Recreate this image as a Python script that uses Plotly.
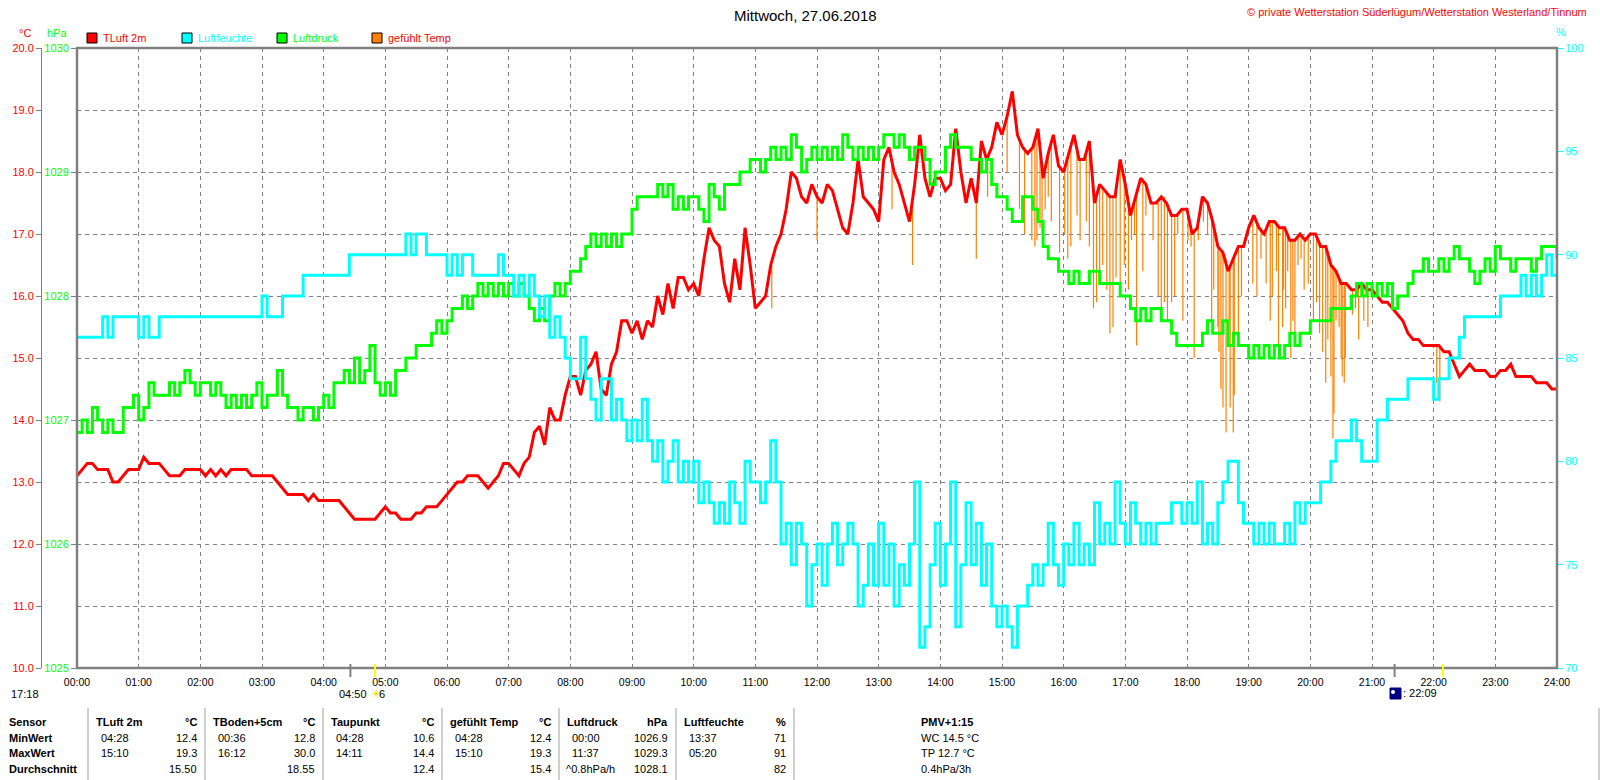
import plotly.graph_objects as go

# ---------------------------------------------------------------- data
TITLE = "Mittwoch, 27.06.2018"
COPYRIGHT = "© private Wetterstation Süderlügum/Wetterstation Westerland/Tinnum"

HOUR_LABELS = [f"{h:02d}:00" for h in range(25)]
TEMP_TICKS = [10, 11, 12, 13, 14, 15, 16, 17, 18, 19, 20]
PRESS_TICKS = [1025, 1026, 1027, 1028, 1029, 1030]
HUM_TICKS = [70, 75, 80, 85, 90, 95, 100]

# TLuft 2m, 5-minute readings (one row per hour) + 24:00
TEMP = [
    13.1, 13.2, 13.3, 13.3, 13.2, 13.2, 13.2, 13.0, 13.0, 13.1, 13.2, 13.2,
    13.2, 13.4, 13.3, 13.3, 13.3, 13.2, 13.1, 13.1, 13.1, 13.2, 13.2, 13.2,
    13.2, 13.1, 13.2, 13.1, 13.2, 13.1, 13.2, 13.2, 13.2, 13.2, 13.1, 13.1,
    13.1, 13.1, 13.1, 13.0, 12.9, 12.8, 12.8, 12.8, 12.8, 12.7, 12.8, 12.7,
    12.7, 12.7, 12.7, 12.7, 12.6, 12.5, 12.4, 12.4, 12.4, 12.4, 12.4, 12.5,
    12.6, 12.5, 12.5, 12.4, 12.4, 12.4, 12.5, 12.5, 12.6, 12.6, 12.6, 12.7,
    12.8, 12.9, 13.0, 13.0, 13.1, 13.1, 13.1, 13.0, 12.9, 13.0, 13.1, 13.3,
    13.3, 13.2, 13.1, 13.3, 13.4, 13.8, 13.9, 13.6, 14.2, 14.0, 14.0, 14.4,
    14.7, 14.7, 14.4, 14.8, 14.9, 15.1, 14.5, 14.4, 14.9, 15.1, 15.6, 15.6,
    15.4, 15.6, 15.3, 15.6, 15.5, 16.0, 15.7, 16.2, 15.8, 16.3, 16.3, 16.1,
    16.2, 16.0, 16.6, 17.1, 16.9, 16.8, 16.2, 15.9, 16.6, 16.1, 17.1, 16.5,
    15.8, 15.9, 16.0, 16.5, 16.8, 17.0, 17.4, 18.0, 17.9, 17.6, 17.5, 17.8,
    17.6, 17.5, 17.8, 17.7, 17.4, 17.1, 17.0, 17.5, 18.2, 17.6, 17.5, 17.4,
    17.2, 18.2, 18.4, 18.0, 17.8, 17.5, 17.2, 17.8, 18.6, 17.9, 17.6, 17.9,
    17.9, 17.7, 17.8, 18.7, 18.0, 17.5, 17.9, 17.5, 18.5, 18.2, 18.4, 18.8,
    18.6, 18.9, 19.3, 18.6, 18.4, 18.3, 18.4, 18.7, 17.9, 18.3, 18.6, 18.1,
    18.0, 18.3, 18.6, 18.2, 18.2, 18.5, 17.5, 17.8, 17.7, 17.6, 17.6, 18.2,
    17.8, 17.3, 17.6, 17.9, 17.8, 17.5, 17.5, 17.6, 17.5, 17.3, 17.3, 17.4,
    17.4, 17.0, 17.1, 17.6, 17.5, 17.2, 16.8, 16.7, 16.4, 16.6, 16.8, 16.8,
    17.1, 17.3, 17.1, 17.0, 17.2, 17.2, 17.1, 17.1, 16.9, 16.9, 17.0, 16.9,
    17.0, 17.0, 16.8, 16.8, 16.5, 16.4, 16.2, 16.2, 16.1, 16.1, 16.2, 16.1,
    16.1, 16.0, 15.9, 15.9, 15.8, 15.7, 15.6, 15.4, 15.3, 15.3, 15.2, 15.2,
    15.2, 15.2, 15.1, 15.1, 14.9, 14.7, 14.8, 14.9, 14.8, 14.8, 14.8, 14.7,
    14.7, 14.8, 14.8, 14.9, 14.7, 14.7, 14.7, 14.7, 14.6, 14.6, 14.6, 14.5,
    14.5,
]

# Luftdruck hPa, 5-minute readings
PRESSURE = [
    1026.9, 1027.0, 1026.9, 1027.1, 1027.0, 1026.9, 1027.0, 1026.9, 1026.9, 1027.1, 1027.1, 1027.2,
    1027.0, 1027.1, 1027.3, 1027.2, 1027.2, 1027.2, 1027.3, 1027.2, 1027.3, 1027.4, 1027.3, 1027.2,
    1027.3, 1027.3, 1027.2, 1027.3, 1027.2, 1027.1, 1027.2, 1027.1, 1027.2, 1027.1, 1027.2, 1027.3,
    1027.1, 1027.2, 1027.2, 1027.4, 1027.2, 1027.1, 1027.1, 1027.0, 1027.1, 1027.1, 1027.0, 1027.1,
    1027.2, 1027.1, 1027.3, 1027.3, 1027.4, 1027.3, 1027.5, 1027.3, 1027.4, 1027.6, 1027.3, 1027.2,
    1027.3, 1027.2, 1027.4, 1027.4, 1027.5, 1027.5, 1027.6, 1027.6, 1027.6, 1027.7, 1027.8, 1027.7,
    1027.8, 1027.9, 1027.9, 1028.0, 1027.9, 1028.0, 1028.1, 1028.0, 1028.1, 1028.0, 1028.1, 1028.0,
    1028.1, 1028.0, 1028.1, 1028.0, 1027.9, 1027.8, 1027.9, 1027.8, 1028.0, 1028.1, 1028.0, 1028.1,
    1028.2, 1028.2, 1028.3, 1028.4, 1028.5, 1028.4, 1028.5, 1028.4, 1028.5, 1028.4, 1028.5, 1028.5,
    1028.7, 1028.8, 1028.8, 1028.8, 1028.8, 1028.9, 1028.8, 1028.9, 1028.7, 1028.8, 1028.7, 1028.8,
    1028.8, 1028.7, 1028.6, 1028.9, 1028.8, 1028.7, 1028.9, 1028.9, 1028.9, 1029.0, 1029.0, 1029.1,
    1029.1, 1029.0, 1029.1, 1029.2, 1029.1, 1029.2, 1029.1, 1029.3, 1029.2, 1029.0, 1029.1, 1029.2,
    1029.1, 1029.2, 1029.1, 1029.2, 1029.1, 1029.3, 1029.2, 1029.1, 1029.2, 1029.1, 1029.2, 1029.1,
    1029.2, 1029.3, 1029.3, 1029.2, 1029.3, 1029.2, 1029.1, 1029.2, 1029.2, 1029.1, 1028.9, 1029.0,
    1029.0, 1029.2, 1029.3, 1029.2, 1029.2, 1029.2, 1029.1, 1029.1, 1029.0, 1029.1, 1028.9, 1028.8,
    1028.8, 1028.7, 1028.6, 1028.6, 1028.8, 1028.8, 1028.7, 1028.6, 1028.4, 1028.3, 1028.3, 1028.2,
    1028.2, 1028.1, 1028.2, 1028.1, 1028.1, 1028.2, 1028.2, 1028.1, 1028.1, 1028.1, 1028.1, 1028.0,
    1028.0, 1027.9, 1027.8, 1027.9, 1027.8, 1027.9, 1027.9, 1027.8, 1027.8, 1027.7, 1027.6, 1027.6,
    1027.6, 1027.6, 1027.6, 1027.7, 1027.8, 1027.7, 1027.7, 1027.8, 1027.6, 1027.7, 1027.6, 1027.6,
    1027.5, 1027.6, 1027.5, 1027.6, 1027.5, 1027.6, 1027.5, 1027.6, 1027.7, 1027.6, 1027.7, 1027.7,
    1027.8, 1027.8, 1027.8, 1027.8, 1027.9, 1027.9, 1027.9, 1027.9, 1028.0, 1028.1, 1028.0, 1028.1,
    1028.0, 1028.1, 1028.0, 1028.1, 1027.9, 1028.0, 1028.0, 1028.1, 1028.2, 1028.2, 1028.3, 1028.2,
    1028.2, 1028.3, 1028.2, 1028.3, 1028.4, 1028.3, 1028.3, 1028.2, 1028.1, 1028.2, 1028.3, 1028.2,
    1028.4, 1028.3, 1028.3, 1028.2, 1028.3, 1028.3, 1028.3, 1028.2, 1028.3, 1028.4, 1028.4, 1028.4,
    1028.3,
]

# Luftfeuchte %, 5-minute readings
HUMIDITY = [
    86, 86, 86, 86, 86, 87, 86, 87, 87, 87, 87, 87,
    86, 87, 86, 86, 87, 87, 87, 87, 87, 87, 87, 87,
    87, 87, 87, 87, 87, 87, 87, 87, 87, 87, 87, 87,
    88, 87, 87, 87, 88, 88, 88, 88, 89, 89, 89, 89,
    89, 89, 89, 89, 89, 90, 90, 90, 90, 90, 90, 90,
    90, 90, 90, 90, 91, 90, 91, 91, 90, 90, 90, 90,
    89, 90, 89, 90, 90, 89, 89, 89, 89, 89, 90, 89,
    89, 88, 89, 88, 89, 88, 87, 88, 86, 87, 86, 85,
    84, 84, 86, 84, 83, 82, 84, 84, 82, 83, 82, 81,
    82, 81, 83, 81, 80, 81, 79, 80, 81, 79, 80, 79,
    80, 78, 79, 78, 77, 78, 77, 79, 78, 77, 80, 79,
    79, 78, 79, 81, 79, 76, 77, 75, 77, 76, 73, 75,
    76, 74, 76, 77, 75, 76, 77, 76, 73, 74, 76, 74,
    77, 74, 76, 73, 75, 74, 76, 79, 71, 72, 75, 77,
    74, 76, 79, 72, 75, 78, 75, 77, 74, 76, 73, 72,
    73, 72, 71, 73, 73, 74, 75, 74, 75, 77, 75, 74,
    76, 75, 77, 75, 76, 75, 78, 76, 77, 76, 79, 77,
    76, 78, 77, 76, 77, 76, 77, 77, 77, 78, 78, 77,
    78, 77, 79, 76, 77, 76, 78, 79, 80, 80, 78, 77,
    77, 76, 77, 76, 77, 76, 76, 77, 76, 78, 77, 78,
    78, 78, 79, 79, 80, 81, 81, 81, 82, 81, 80, 80,
    80, 82, 82, 83, 83, 83, 83, 84, 84, 84, 84, 84,
    83, 84, 84, 85, 85, 86, 87, 87, 87, 87, 87, 87,
    87, 88, 88, 88, 88, 89, 88, 89, 88, 89, 90, 89,
    89,
]

# gefühlt Temp: equal to TLuft except short drops (time, value before drop, lowest value)
FEEL_DROPS = [
    ("11:16", 16.5, 15.8), ("12:00", 17.6, 16.9), ("13:13", 18.2, 17.4), ("13:33", 17.5, 16.5),
    ("14:35", 17.5, 16.6), ("14:46", 18.2, 17.6), ("15:05", 18.9, 18.0), ("15:17", 18.5, 17.4),
    ("15:22", 18.4, 17.0), ("15:29", 18.4, 16.9), ("15:32", 18.5, 16.8), ("15:34", 18.6, 16.9),
    ("15:37", 18.4, 17.1), ("15:39", 18.1, 17.0), ("15:42", 18.1, 17.4), ("15:45", 18.3, 17.6),
    ("15:48", 18.5, 17.2), ("15:56", 18.1, 16.7), ("16:01", 18.1, 17.0), ("16:04", 18.2, 16.6),
    ("16:07", 18.4, 16.8), ("16:13", 18.4, 17.3), ("16:16", 18.2, 16.9), ("16:22", 18.3, 17.2),
    ("16:25", 18.5, 16.8), ("16:29", 17.7, 15.8), ("16:32", 17.6, 15.9), ("16:35", 17.8, 16.3),
    ("16:38", 17.7, 16.5), ("16:42", 17.7, 16.1), ("16:45", 17.6, 15.4), ("16:48", 17.6, 15.5),
    ("16:51", 17.7, 16.3), ("16:55", 18.2, 16.0), ("16:59", 17.9, 16.5), ("17:03", 17.5, 16.1),
    ("17:06", 17.4, 16.9), ("17:09", 17.5, 17.0), ("17:11", 17.7, 15.2), ("17:17", 17.9, 16.4),
    ("17:20", 17.8, 17.3), ("17:27", 17.5, 16.9), ("17:32", 17.5, 16.0), ("17:35", 17.6, 15.6),
    ("17:38", 17.6, 15.9), ("17:41", 17.5, 15.6), ("17:45", 17.3, 15.9), ("17:48", 17.3, 16.0),
    ("17:51", 17.3, 17.0), ("17:56", 17.4, 15.6), ("18:01", 17.3, 16.9), ("18:04", 17.1, 16.8),
    ("18:07", 17.0, 15.0), ("18:11", 17.2, 16.9), ("18:16", 17.6, 17.2), ("18:20", 17.5, 17.0),
    ("18:24", 17.3, 15.6), ("18:26", 17.1, 16.1), ("18:30", 16.8, 15.5), ("18:31", 16.8, 15.1),
    ("18:33", 16.7, 14.5), ("18:35", 16.7, 14.2), ("18:38", 16.6, 13.8), ("18:41", 16.4, 15.6),
    ("18:42", 16.5, 14.2), ("18:45", 16.6, 13.8), ("18:46", 16.6, 14.4), ("18:50", 16.8, 15.4),
    ("18:53", 16.8, 16.0), ("19:04", 17.3, 16.2), ("19:08", 17.2, 16.0), ("19:12", 17.1, 16.6),
    ("19:17", 17.1, 16.2), ("19:21", 17.2, 15.6), ("19:23", 17.2, 16.0), ("19:27", 17.2, 16.4),
    ("19:29", 17.1, 15.2), ("19:33", 17.1, 15.5), ("19:34", 17.1, 16.1), ("19:36", 17.1, 15.8),
    ("19:38", 17.0, 16.4), ("19:41", 16.9, 15.0), ("19:43", 16.9, 15.6), ("19:45", 16.9, 15.4),
    ("19:48", 17.0, 16.5), ("19:51", 17.0, 16.6), ("19:54", 16.9, 16.1), ("19:58", 17.0, 16.2),
    ("20:03", 17.0, 15.6), ("20:06", 17.0, 15.9), ("20:09", 16.8, 15.4), ("20:12", 16.8, 15.1),
    ("20:15", 16.8, 14.6), ("20:17", 16.7, 15.3), ("20:20", 16.5, 14.7), ("20:22", 16.5, 13.7),
    ("20:23", 16.4, 14.1), ("20:25", 16.4, 15.6), ("20:28", 16.3, 15.5), ("20:30", 16.2, 15.0),
    ("20:31", 16.2, 14.7), ("20:33", 16.2, 14.6), ("20:34", 16.2, 15.0), ("20:41", 16.1, 15.7),
    ("20:44", 16.1, 15.8), ("20:47", 16.1, 15.3), ("20:52", 16.2, 15.6), ("20:56", 16.1, 15.5),
    ("22:03", 15.2, 14.6), ("22:06", 15.2, 14.3),
]

SUNRISE = "04:50"
SUNSET = "22:09"
DAWN_MARK = "04:26"
DUSK_MARK = "21:22"
DAY_LENGTH = "17:18"

LEGEND = [("TLuft 2m", "#FF0000", "#FF0000"), ("Luftfeuchte", "#00FFFF", "#00FFFF"),
          ("Luftdruck", "#00FF00", "#00FF00"), ("gefühlt Temp", "#FF8000", "#FF0000")]

TABLE_ROWS = ["Sensor", "MinWert", "MaxWert", "Durchschnitt"]
TABLE_COLS = [
    # header, unit, min time, min, max time, max, avg label, avg
    ("TLuft 2m", "°C", "04:28", "12.4", "15:10", "19.3", "", "15.50"),
    ("TBoden+5cm", "°C", "00:36", "12.8", "16:12", "30.0", "", "18.55"),
    ("Taupunkt", "°C", "04:28", "10.6", "14:11", "14.4", "", "12.4"),
    ("gefühlt Temp", "°C", "04:28", "12.4", "15:10", "19.3", "", "15.4"),
    ("Luftdruck", "hPa", "00:00", "1026.9", "11:37", "1029.3", "^0.8hPa/h", "1028.1"),
    ("Luftfeuchte", "%", "13:37", "71", "05:20", "91", "", "82"),
]
PMV_LINES = ["PMV+1:15", "WC 14.5 °C", "TP 12.7 °C", "0.4hPa/3h"]

# ---------------------------------------------------------------- layout helpers
W, H = 1600, 780
PL, PR, PT, PB = 77, 1557, 48, 668
FONT = "Liberation Sans, Arial, sans-serif"
GRID = "#808080"


def px(x):
    return x / W


def py(y):
    return 1 - y / H


def hours(s):
    h, m = s.split(":")
    return int(h) + int(m) / 60


TIMES = [i * 5 / 60 for i in range(len(TEMP))]

feel_x, feel_y = [], []
for t, top, low in FEEL_DROPS:
    feel_x += [hours(t), hours(t), None]
    feel_y += [top, low, None]

fig = go.Figure()
fig.add_trace(go.Scatter(x=TIMES, y=PRESSURE, yaxis="y2", mode="lines", line_shape="hv",
                         line=dict(color="#00FF00", width=3), hoverinfo="skip", showlegend=False))
fig.add_trace(go.Scatter(x=TIMES, y=HUMIDITY, yaxis="y3", mode="lines", line_shape="hv",
                         line=dict(color="#00FFFF", width=3), hoverinfo="skip", showlegend=False))
fig.add_trace(go.Scatter(x=feel_x, y=feel_y, yaxis="y", mode="lines", connectgaps=False,
                         line=dict(color="#FF8000", width=1.2), hoverinfo="skip", showlegend=False))
fig.add_trace(go.Scatter(x=TIMES, y=TEMP, yaxis="y", mode="lines",
                         line=dict(color="#FF0000", width=3), hoverinfo="skip", showlegend=False))

xdom = [px(PL), px(PR)]
ydom = [py(PB), py(PT)]

fig.update_layout(
    width=W, height=H, margin=dict(l=0, r=0, t=0, b=0, pad=0),
    paper_bgcolor="white", plot_bgcolor="white",
    font=dict(family=FONT, size=11, color="black"),
    xaxis=dict(domain=xdom, range=[0, 24], tickvals=list(range(25)), ticktext=HOUR_LABELS,
               showgrid=True, gridcolor=GRID, griddash="4px,4px", gridwidth=1,
               zeroline=False, showline=False, ticks="outside", ticklen=4,
               tickcolor="rgba(0,0,0,0)", tickfont=dict(size=10.5, color="black", family=FONT),
               anchor="y2", fixedrange=True, automargin=False),
    yaxis=dict(domain=ydom, range=[10, 20], tickvals=TEMP_TICKS, tickformat=".1f",
               anchor="free", position=px(41), showline=True, linecolor=GRID, linewidth=1,
               ticks="outside", ticklen=5, tickcolor=GRID, automargin=False,
               tickfont=dict(size=11, color="#FF0000", family=FONT),
               showgrid=True, gridcolor=GRID, griddash="4px,4px", gridwidth=1, zeroline=False),
    yaxis2=dict(domain=ydom, range=[1025, 1030], tickvals=PRESS_TICKS, overlaying="y",
                anchor="x", side="left", ticks="outside", ticklen=5, tickcolor=GRID,
                tickfont=dict(size=11, color="#00FF00", family=FONT), automargin=False,
                showgrid=False, zeroline=False, showline=False),
    yaxis3=dict(domain=ydom, range=[70, 100], tickvals=HUM_TICKS, overlaying="y",
                anchor="x", side="right", ticks="outside", ticklen=5, tickcolor="#00FFFF",
                tickfont=dict(size=11, color="#00FFFF", family=FONT), automargin=False,
                showgrid=False, zeroline=False, showline=False),
)

shapes = []
annotations = []


def txt(x, y, s, color="black", anchor="left", bold=False, size=11):
    annotations.append(dict(
        x=px(x), y=py(y), xref="paper", yref="paper", text=f"<b>{s}</b>" if bold else s,
        showarrow=False, xanchor=anchor, yanchor="middle", borderpad=0,
        font=dict(family=FONT, size=size, color=color)))


# plot frame
shapes.append(dict(type="rect", xref="paper", yref="paper", x0=px(PL), x1=px(PR),
                   y0=py(PB), y1=py(PT), line=dict(color=GRID, width=2.5), layer="above"))

# sunrise / sunset marks on the time axis
for t, col in [(DAWN_MARK, GRID), (SUNRISE, "#FFFF00"), (DUSK_MARK, GRID), (SUNSET, "#FFFF00")]:
    shapes.append(dict(type="line", xref="x", yref="paper", x0=hours(t), x1=hours(t),
                       y0=py(677), y1=py(664), line=dict(color=col, width=2), layer="above"))

# title & credits
txt(805, 15, TITLE, "#000000", "center", size=15)
txt(1588, 12, COPYRIGHT, "#FF0000", "right", size=11)

# axis unit labels
txt(25, 33, "°C", "#FF0000", "center")
txt(57, 33, "hPa", "#00FF00", "center")
txt(1561, 32, "%", "#00FFFF", "center")

# legend
lx = [87, 182, 277, 372]
for (name, fill, tcol), x in zip(LEGEND, lx):
    shapes.append(dict(type="rect", xref="paper", yref="paper", x0=px(x), x1=px(x + 10),
                       y0=py(43), y1=py(33), fillcolor=fill, line=dict(color="black", width=1)))
    txt(x + 15, 38, name, tcol, "left")

# day length / sunrise / sunset info
txt(10, 694, DAY_LENGTH, "black", "left")
shapes.append(dict(type="path", xref="paper", yref="paper", xsizemode="pixel", ysizemode="pixel",
                   xanchor=px(44.5), yanchor=py(697), path="M -4.5,0 A 4.5,4.5 0 0 1 4.5,0 Z",
                   fillcolor="#FFFF00", line=dict(color="#FFFF00", width=1)))
txt(368, 694, SUNRISE, "black", "right")
txt(376, 694, "☀", "#FFE000", "center", size=12)
txt(382, 694, "6", "black", "center")
shapes.append(dict(type="rect", xref="paper", yref="paper", x0=px(1390), x1=px(1401),
                   y0=py(699), y1=py(688), fillcolor="#000080", line=dict(color="#000080", width=1)))
shapes.append(dict(type="circle", xref="paper", yref="paper", x0=px(1391), x1=px(1395),
                   y0=py(694), y1=py(690), fillcolor="#FFFFFF", line=dict(width=0)))
txt(1402, 693, ": " + SUNSET, "black", "left")

# summary table
row_y = [722, 738, 753, 769]
for lab, y in zip(TABLE_ROWS, row_y):
    txt(8, y, lab, "black", "left", bold=True)
seps = [88, 205, 323, 442, 559, 676, 794]
for i, (head, unit, tmin, vmin, tmax, vmax, tavg, vavg) in enumerate(TABLE_COLS):
    xl = seps[i] + 7
    xr = seps[i + 1] - 7
    txt(xl, row_y[0], head, "black", "left", bold=True)
    txt(xr, row_y[0], unit, "black", "right", bold=True)
    txt(xl + 5, row_y[1], tmin, "black", "left")
    txt(xr, row_y[1], vmin, "black", "right")
    txt(xl + 5, row_y[2], tmax, "black", "left")
    txt(xr, row_y[2], vmax, "black", "right")
    if tavg:
        txt(xl - 1, row_y[3], tavg, "black", "left")
    txt(xr, row_y[3], vavg, "black", "right")
for i, (s, y) in enumerate(zip(PMV_LINES, row_y)):
    txt(920, y, s, "black", "left", bold=(i == 0))
for x in seps + [1599]:
    shapes.append(dict(type="line", xref="paper", yref="paper", x0=px(x), x1=px(x),
                       y0=py(780), y1=py(708), line=dict(color="#A0A0A0", width=1)))

fig.update_layout(shapes=shapes, annotations=annotations)

fig.write_html("out.html", config={"displayModeBar": False, "staticPlot": True},
               post_script="document.body.style.margin='0px';")
